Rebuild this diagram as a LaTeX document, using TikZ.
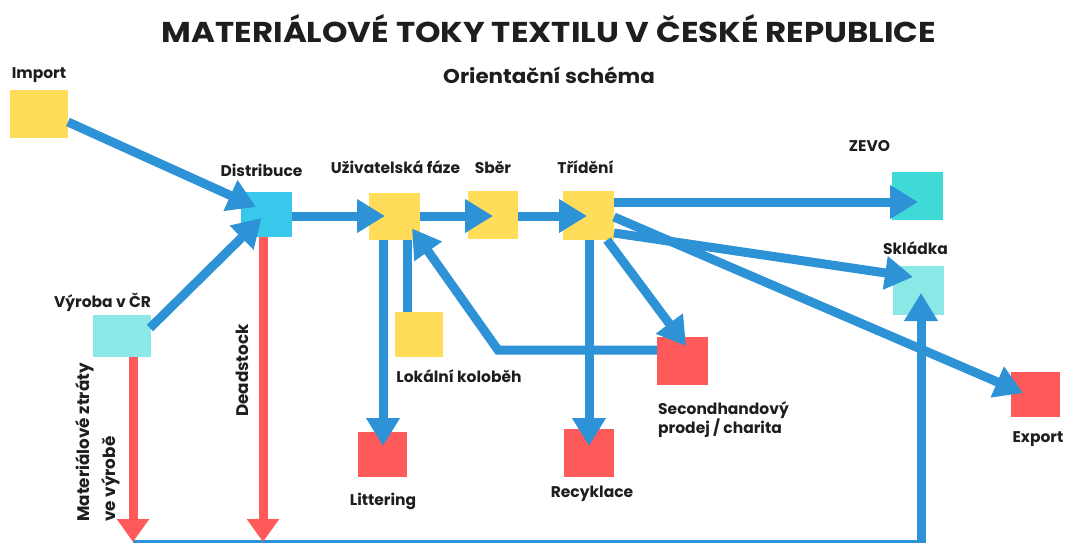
\documentclass[tikz,border=0pt]{standalone}
\usepackage{fontspec}
\setmainfont{Poppins}
\usetikzlibrary{arrows.meta,calc}
\definecolor{cyel}{HTML}{FFDC5A}
\definecolor{ccyan}{HTML}{38C8EC}
\definecolor{cturq}{HTML}{3FDAD8}
\definecolor{clight}{HTML}{8AE9E6}
\definecolor{cred}{HTML}{FF5A5A}
\definecolor{cblue}{HTML}{2E92D6}
\definecolor{ctext}{HTML}{1E1E1E}
\begin{document}
\begin{tikzpicture}[x=1pt,y=-1pt,
  box/.style={inner sep=0pt, outer sep=0pt, draw=none},
  flow/.style={cblue, line width=9pt, -{Triangle[length=28pt,width=32pt]}},
  loss/.style={cred, line width=9pt, -{Triangle[length=23pt,width=31pt]}},
  link/.style={cblue, line width=9pt},
  lbl/.style={font=\fontsize{15.5}{18}\selectfont\bfseries, text=ctext, inner sep=0pt, anchor=base},
  vlbl/.style={font=\fontsize{16.8}{19}\selectfont\bfseries, text=ctext, inner sep=0pt, rotate=90, anchor=base west},
]
\useasboundingbox (0,0) rectangle (1066,542);
\fill[white] (0,0) rectangle (1066,542);
\clip (0,0) rectangle (1066,542);

% titles
\node[font=\fontsize{28.7}{30}\selectfont\bfseries, text=ctext, inner sep=0pt, anchor=base] (title) at (549,42) {\scalebox{1.13}[1]{MATERIÁLOVÉ TOKY TEXTILU V ČESKÉ REPUBLICE}};
\node[font=\fontsize{20}{22}\selectfont\bfseries, text=ctext, inner sep=0pt, anchor=base] (sub) at (549,83) {\scalebox{1.07}[1]{Orientační schéma}};

% boxes
\node[box, fill=cyel,   minimum width=58pt, minimum height=48pt] (imp)  at (39,114) {};
\node[box, fill=ccyan,  minimum width=51pt, minimum height=45pt] (dist) at (266.5,214.5) {};
\node[box, fill=cyel,   minimum width=51pt, minimum height=47pt] (uziv) at (394.5,216.5) {};
\node[box, fill=cyel,   minimum width=50pt, minimum height=48pt] (sber) at (493,215) {};
\node[box, fill=cyel,   minimum width=51pt, minimum height=49pt] (trid) at (588.5,215.5) {};
\node[box, fill=cturq,  minimum width=51pt, minimum height=48pt] (zevo) at (917.5,196) {};
\node[box, fill=clight, minimum width=51pt, minimum height=49pt] (skl)  at (918.5,290.5) {};
\node[box, fill=clight, minimum width=58pt, minimum height=42pt] (vyr)  at (122,336) {};
\node[box, fill=cyel,   minimum width=48pt, minimum height=45pt] (lok)  at (419,334.5) {};
\node[box, fill=cred,   minimum width=49pt, minimum height=45pt] (lit)  at (382.5,454.5) {};
\node[box, fill=cred,   minimum width=50pt, minimum height=48pt] (rec)  at (589,453) {};
\node[box, fill=cred,   minimum width=51pt, minimum height=48pt] (sec)  at (682.5,361) {};
\node[box, fill=cred,   minimum width=49pt, minimum height=45pt] (exp)  at (1035.5,394.5) {};

% free ends
\coordinate (ztr) at (133,542);
\coordinate (dst) at (263,542);
\coordinate (bl)  at (133,544.5);
\coordinate (br)  at (921,544.5);

% blue flows
\draw[flow] ($(imp.center)+(29,8)$) -- ($(dist.center)+(-10.5,-7.5)$);
\draw[flow] ($(vyr.center)+(28,-8)$) -- ($(dist.center)+(-5,3.5)$);
\draw[flow] ($(dist.center)+(25.5,1.5)$) -- ($(uziv.center)+(-9.5,-0.5)$);
\draw[flow] ($(uziv.center)+(25.5,-0.5)$) -- ($(sber.center)+(0,1)$);
\draw[flow] ($(sber.center)+(25,1)$) -- ($(trid.center)+(-1.5,0.5)$);
\draw[flow] ($(trid.center)+(25.5,-13.5)$) -- ($(zevo.center)+(0.5,6)$);
\draw[flow] ($(trid.center)+(25.5,17.5)$) -- ($(skl.center)+(-5.5,-13.5)$);
\draw[flow] ($(trid.center)+(25.5,1.5)$) -- ($(exp.center)+(-12.5,-1.5)$);
\draw[flow] ($(trid.center)+(18.5,24.5)$) -- ($(sec.center)+(3.5,-15)$);
\draw[flow] ($(trid.center)+(0.5,24.5)$) -- ($(rec.center)+(0,-7)$);
\draw[flow] ($(uziv.center)+(-11.5,23.5)$) -- ($(lit.center)+(0.5,-8.5)$);
\draw[link] ($(lok.center)+(-12,-22.5)$) -- ($(uziv.center)+(12.5,23.5)$);
\draw[flow] ($(sec.center)+(-25.5,-11)$) -- ++(-159,0) -- ($(uziv.center)+(17.5,12)$);
\draw[flow] (bl) -- (br) -- ($(skl.center)+(2.5,2.5)$);

% red losses
\draw[loss] ($(vyr.center)+(11,21)$) -- (ztr);
\draw[loss] ($(dist.center)+(-3.5,22.5)$) -- (dst);

% labels
\node[lbl] (limp)  at (39,78) {Import};
\node[lbl] (ldist) at (261.5,176) {Distribuce};
\node[lbl] (luziv) at (395.5,173) {Uživatelská fáze};
\node[lbl] (lsber) at (493,173) {Sběr};
\node[lbl] (ltrid) at (585.5,173) {Třídění};
\node[lbl] (lzevo) at (869.5,151) {ZEVO};
\node[lbl] (lskl)  at (915.5,254) {Skládka};
\node[lbl] (lvyr)  at (102.5,307) {Výroba v ČR};
\node[lbl] (llok)  at (459,382) {Lokální koloběh};
\node[lbl] (llit)  at (383,505) {Littering};
\node[lbl] (lrec)  at (592,497) {Recyklace};
\node[lbl, anchor=base west] (lsec1) at (658,414) {Secondhandový};
\node[lbl, anchor=base west] (lsec2) at (658,433) {prodej / charita};
\node[lbl] (lexp)  at (1038,442) {Export};
\node[vlbl] (ldead) at (248,417) {Deadstock};
\node[vlbl] (lztr1) at (89,522) {Materiálové ztráty};
\node[vlbl] (lztr2) at (115,522) {ve výrobě};
\end{tikzpicture}
\end{document}
